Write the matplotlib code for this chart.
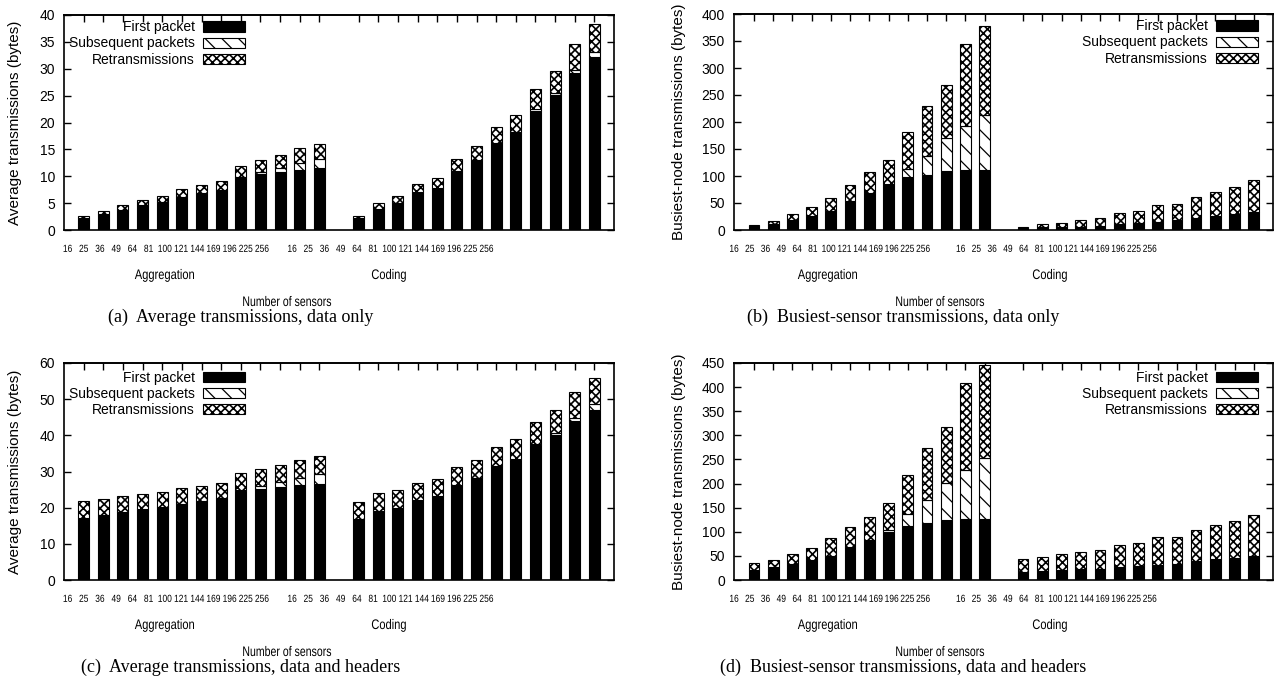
import numpy as np
import matplotlib
matplotlib.use("Agg")
import matplotlib.pyplot as plt
from matplotlib.patheffects import AbstractPathEffect
from matplotlib.transforms import Affine2D

plt.rcParams['hatch.linewidth'] = 1.0
plt.rcParams['font.family'] = ['Liberation Sans', 'DejaVu Sans']

sensors = [16, 25, 36, 49, 64, 81, 100, 121, 144, 169, 196, 225, 256]
groups = ["Aggregation", "Coding"]
series_names = ["First packet", "Subsequent packets", "Retransmissions"]

# (a) Average transmissions, data only
a_agg_first = [2.2, 3.0, 3.7, 4.65, 5.1, 6.2, 6.9, 7.5, 9.6, 10.4, 10.7, 11.2, 11.5]
a_agg_sub = [0.1, 0.0, 0.1, 0.05, 0.1, 0.0, 0.0, 0.0, 0.2, 0.4, 0.8, 1.2, 1.7]
a_agg_retx = [0.3, 0.5, 0.9, 0.8, 1.1, 1.4, 1.4, 1.6, 2.1, 2.2, 2.4, 2.8, 2.8]
a_cod_first = [2.2, 4.0, 5.0, 7.0, 7.9, 11.0, 13.1, 16.1, 18.1, 22.2, 25.1, 29.3, 32.2]
a_cod_sub = [0.1, 0.0, 0.0, 0.0, 0.0, 0.0, 0.0, 0.0, 0.2, 0.3, 0.4, 0.5, 0.9]
a_cod_retx = [0.3, 1.1, 1.3, 1.6, 1.8, 2.3, 2.5, 3.1, 3.1, 3.7, 4.1, 4.8, 5.2]

# (b) Busiest-sensor transmissions, data only
b_agg_first = [8, 11.7, 18.5, 26.5, 35, 53.7, 68, 85, 97.5, 102.5, 109, 110.5, 110.5]
b_agg_sub = [0, 0, 0, 0, 0, 0, 0, 0, 15.5, 34.5, 62, 81.5, 102.5]
b_agg_retx = [1, 5, 10.5, 16, 24, 29, 39, 45, 68, 92, 97, 152, 165]
b_cod_first = [4, 6, 6, 6.2, 7, 11, 13, 15.5, 18.5, 22, 26, 29, 34]
b_cod_sub = [0, 0, 0, 0, 0, 0, 0, 0, 0, 0, 0, 0, 0]
b_cod_retx = [1, 4.5, 7.5, 12, 15, 20, 22, 31, 30.5, 39, 45, 51, 58.6]

# (c) Average transmissions, data and headers
c_agg_first = [17.1, 17.9, 18.9, 19.6, 20.3, 21.1, 21.9, 22.8, 24.6, 25.1, 25.7, 26.2, 26.6]
c_agg_sub = [0, 0, 0, 0, 0, 0, 0, 0, 0.4, 0.8, 1.4, 2.0, 2.7]
c_agg_retx = [4.7, 4.4, 4.4, 4.2, 4.0, 4.3, 4.1, 4.0, 4.5, 4.8, 4.6, 4.9, 4.9]
c_cod_first = [16.9, 19.1, 20.0, 22.1, 23.3, 26.3, 28.2, 31.4, 33.1, 37.2, 40.1, 44.1, 47.1]
c_cod_sub = [0, 0, 0, 0, 0, 0, 0, 0, 0.3, 0.3, 0.5, 0.8, 1.5]
c_cod_retx = [4.6, 4.9, 4.8, 4.7, 4.6, 5.0, 4.9, 5.3, 5.7, 6.2, 6.4, 7.2, 7.3]

# (d) Busiest-sensor transmissions, data and headers
d_agg_first = [20.8, 26.3, 33, 41.5, 50, 68.5, 83, 100, 112, 118, 125, 126, 126.7]
d_agg_sub = [0, 0, 0, 0, 0, 0, 0, 3, 25, 47, 76, 103, 127]
d_agg_retx = [13.8, 14.6, 21, 25.5, 37, 41, 47, 56, 81, 109, 116, 180, 193]
d_cod_first = [17, 19, 21, 22, 23.5, 26, 29, 31, 34, 39, 43, 46, 50]
d_cod_sub = [0, 0, 0, 0, 0, 0, 0, 0, 0, 0, 0, 0, 0]
d_cod_retx = [26, 29, 33, 36, 39.5, 47, 48, 58, 55, 65, 71, 75.5, 85]

captions = ["(a)  Average transmissions, data only",
            "(b)  Busiest-sensor transmissions, data only",
            "(c)  Average transmissions, data and headers",
            "(d)  Busiest-sensor transmissions, data and headers"]
ylabels = ["Average transmissions (bytes)", "Busiest-node transmissions (bytes)",
           "Average transmissions (bytes)", "Busiest-node transmissions (bytes)"]

panels = [
    dict(data=(a_agg_first, a_agg_sub, a_agg_retx, a_cod_first, a_cod_sub, a_cod_retx),
         ylim=40, ystep=5, rect=(64, 15, 614, 230), legend_x=0.329, legend_y=0.975,
         lab0=-0.82, lab1=10.61, labstep=0.825, grp=(165, 389), nos=287, cap=241, ylab_x=-0.076),
    dict(data=(b_agg_first, b_agg_sub, b_agg_retx, b_cod_first, b_cod_sub, b_cod_retx),
         ylim=400, ystep=50, rect=(734, 14, 1273, 230), legend_x=0.972, legend_y=0.975,
         lab0=-1.04, lab1=10.75, labstep=0.82, grp=(828, 1050), nos=940, cap=903, ylab_x=-0.089),
    dict(data=(c_agg_first, c_agg_sub, c_agg_retx, c_cod_first, c_cod_sub, c_cod_retx),
         ylim=60, ystep=10, rect=(64, 363, 614, 580), legend_x=0.329, legend_y=0.965,
         lab0=-0.82, lab1=10.61, labstep=0.825, grp=(165, 389), nos=287, cap=241, ylab_x=-0.076),
    dict(data=(d_agg_first, d_agg_sub, d_agg_retx, d_cod_first, d_cod_sub, d_cod_retx),
         ylim=450, ystep=50, rect=(734, 363, 1273, 580), legend_x=0.972, legend_y=0.965,
         lab0=-1.04, lab1=10.75, labstep=0.82, grp=(828, 1050), nos=940, cap=903, ylab_x=-0.089),
]


class Condense(AbstractPathEffect):
    """Horizontally compress text around its centre (imitates a narrow font)."""

    def __init__(self, sx=0.8):
        super().__init__()
        self._sx = sx

    def draw_path(self, renderer, gc, tpath, affine, rgbFace=None):
        ext = tpath.get_extents(affine)
        cx = 0.5 * (ext.x0 + ext.x1)
        aff = affine + Affine2D().translate(-cx, 0).scale(self._sx, 1).translate(cx, 0)
        renderer.draw_path(gc, tpath, aff, rgbFace)


def set_hlw(container, lw):
    for patch in container.patches:
        if hasattr(patch, 'set_hatch_linewidth'):
            patch.set_hatch_linewidth(lw)


W, H = 1276, 681
fig = plt.figure(figsize=(W / 100, H / 100), dpi=100)
serif = ['Liberation Serif', 'DejaVu Serif']

agg_pos = np.arange(len(sensors))
n = len(sensors)
cod_pos = np.arange(n) + n + 1

for i, p in enumerate(panels):
    x0, y0, x1, y1 = p['rect']
    ax = fig.add_axes([x0 / W, 1 - y1 / H, (x1 - x0) / W, (y1 - y0) / H])
    af, asb, ar, cf, csb, cr = [np.array(v, dtype=float) for v in p['data']]
    width = 0.56
    handles = []
    for pos, f, s, r in ((agg_pos, af, asb, ar), (cod_pos, cf, csb, cr)):
        h1 = ax.bar(pos, f, width, color='black', edgecolor='black', linewidth=0.8)
        h2 = ax.bar(pos, s, width, bottom=f, color='white', edgecolor='black',
                    hatch='\\\\', linewidth=0.8)
        h3 = ax.bar(pos, r, width, bottom=f + s, color='white', edgecolor='black',
                    hatch='xxxx', linewidth=0.8)
        set_hlw(h2, 0.9)
        set_hlw(h3, 1.2)
        if not handles:
            handles = [h1, h2, h3]
    ax.set_xlim(-1, 2 * n + 1)
    ax.set_ylim(0, p['ylim'])
    ax.set_yticks(np.arange(0, p['ylim'] + 0.1, p['ystep']))
    ax.tick_params(axis='y', direction='in', length=5, width=1, left=True, right=True,
                   labelsize=10, pad=6.5)
    for sp in ax.spines.values():
        sp.set_linewidth(1.2)
    # bottom labels (narrow, offset) without tick marks
    labpos = list(p['lab0'] + p['labstep'] * np.arange(n)) + \
        list(p['lab1'] + p['labstep'] * np.arange(n))
    ax.set_xticks(labpos)
    ax.set_xticklabels([str(s) for s in sensors] * 2, fontsize=7.4)
    ax.tick_params(axis='x', length=0, pad=10)
    for lbl in ax.get_xticklabels():
        lbl.set_path_effects([Condense(0.82)])
    # top tick marks at bar positions
    sec = ax.secondary_xaxis('top')
    sec.set_xticks(list(agg_pos) + list(cod_pos))
    sec.set_xticklabels([])
    sec.tick_params(direction='in', length=5, width=1)
    sec.spines['top'].set_linewidth(1.2)
    ax.set_ylabel(ylabels[i], fontsize=11)
    ax.yaxis.set_label_coords(p['ylab_x'], 0.5)
    leg = ax.legend(handles, series_names, loc='upper right',
                    bbox_to_anchor=(p['legend_x'], p['legend_y']), frameon=False,
                    markerfirst=False, fontsize=10, handlelength=3.0, handleheight=0.75,
                    labelspacing=0.15, borderpad=0, borderaxespad=0, handletextpad=0.6)
    for lh, lw in zip(leg.legend_handles, (0.9, 0.9, 1.2)):
        if hasattr(lh, 'set_hatch_linewidth'):
            lh.set_hatch_linewidth(lw)
    # group labels, axis title, caption
    yb = y1
    for gx, g in zip(p['grp'], groups):
        fig.text(gx / W, 1 - (yb + 45) / H, g, ha='center', va='center',
                 fontsize=10, path_effects=[Condense(0.8)])
    fig.text(p['nos'] / W, 1 - (yb + 72) / H, "Number of sensors", ha='center', va='center',
             fontsize=10, path_effects=[Condense(0.76)])
    fig.text(p['cap'] / W, 1 - (yb + 87) / H, captions[i], ha='center', va='center',
             fontsize=13, family=serif)

fig.savefig("out.png", dpi=100)
